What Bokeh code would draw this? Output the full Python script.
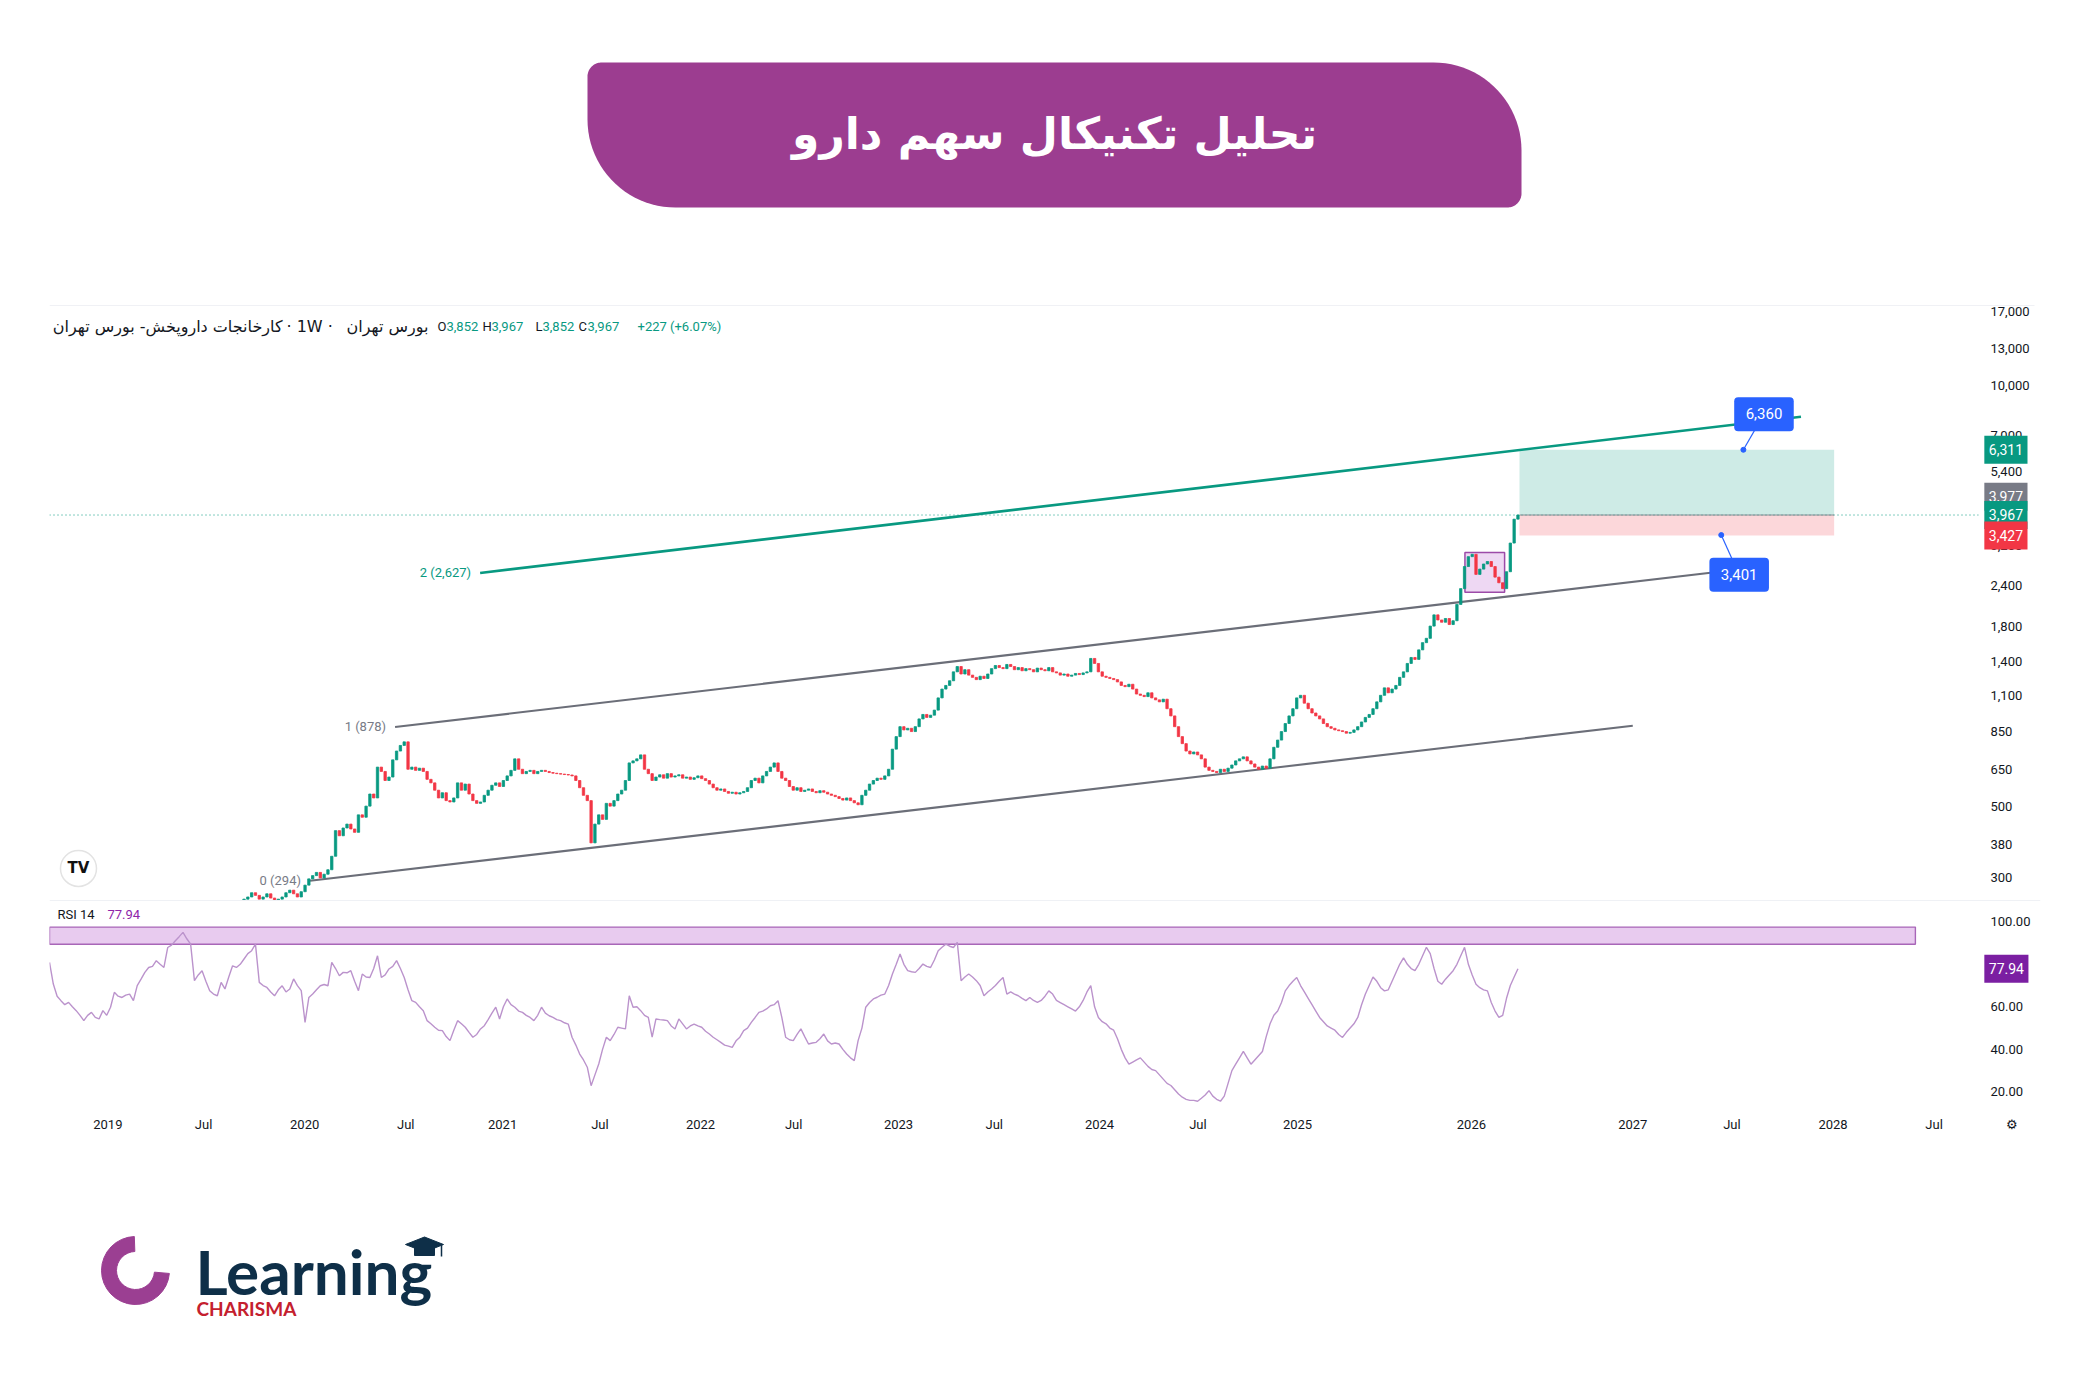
import numpy as np
from bokeh.plotting import figure
from bokeh.layouts import column
from bokeh.models import Range1d, ColumnDataSource, FixedTicker, NumeralTickFormatter, Label, Span
from bokeh.core.properties import value
from bokeh.embed import file_html
from bokeh.resources import INLINE

W = 2084

# ------------------------------------------------------------------ data
title_text = "تحلیل تکنیکال سهم دارو"
symbol_parts = ["کارخانجات داروپخش- بورس تهران", "· 1W ·", "بورس تهران"]

candle_start_week = 50
closes = [
    250, 258, 262, 270, 265, 258, 262, 268, 260, 255,
    258, 262, 270, 275, 268, 262, 272, 285, 298, 305,
    312, 300, 308, 318, 350, 420, 405, 428, 440, 425,
    415, 470, 462, 500, 545, 530, 660, 640, 600, 615,
    695, 740, 770, 790, 650, 660, 645, 655, 640, 605,
    590, 560, 530, 550, 520, 515, 530, 590, 560, 585,
    545, 520, 510, 515, 540, 560, 580, 590, 575, 600,
    620, 645, 700, 650, 630, 640, 645, 630, 640, 645,
    640, 635, 632, 630, 628, 626, 624, 620, 600, 570,
    540, 520, 385, 440, 470, 455, 510, 500, 520, 545,
    560, 600, 680, 690, 700, 720, 650, 630, 600, 615,
    625, 610, 630, 615, 620, 625, 610, 615, 605, 612,
    620, 608, 600, 585, 570, 560, 565, 555, 548, 552,
    545, 550, 555, 570, 600, 610, 590, 620, 640, 660,
    680, 640, 610, 600, 575, 560, 570, 555, 560, 565,
    555, 550, 558, 552, 545, 540, 535, 528, 522, 530,
    520, 512, 505, 540, 560, 585, 600, 610, 605, 620,
    650, 750, 820, 880, 860, 870, 850, 880, 930, 960,
    940, 955, 990, 1080, 1150, 1180, 1220, 1300, 1350, 1280,
    1320, 1270, 1250, 1230, 1260, 1240, 1280, 1330, 1360, 1340,
    1330, 1370, 1350, 1320, 1340, 1310, 1330, 1320, 1300, 1335,
    1320, 1310, 1340, 1300, 1290, 1270, 1280, 1260, 1270, 1285,
    1275, 1290, 1300, 1430, 1380, 1300, 1260, 1250, 1240, 1230,
    1210, 1180, 1170, 1190, 1150, 1110, 1100, 1090, 1120, 1080,
    1065, 1050, 1070, 1000, 950, 880, 820, 780, 740, 725,
    735, 720, 700, 660, 645, 640, 635, 650, 640, 655,
    670, 690, 700, 710, 690, 675, 660, 650, 665, 655,
    700, 760, 800, 850, 900, 950, 1000, 1080, 1100, 1040,
    1000, 970, 950, 930, 900, 880, 870, 860, 855, 850,
    840, 845, 860, 880, 910, 940, 960, 1000, 1050, 1100,
    1160, 1120, 1150, 1180, 1250, 1300, 1380, 1440, 1420, 1520,
    1600, 1650, 1800, 1950, 1880, 1850, 1900, 1820, 1870, 2100,
    2350, 2750, 2950, 3000, 2600, 2700, 2800, 2850, 2750, 2550,
    2450, 2350, 2650, 3250, 3852, 3967,
]

rsi_values = [
    80.9, 70.7, 65, 62.9, 61, 62.1, 60, 58.2, 56, 53.5,
    56, 57.4, 55, 54.3, 58.2, 56, 59.8, 66.8, 65, 64.4,
    65.5, 66, 62.9, 70, 73, 76.2, 78.5, 79, 81.7, 80,
    78.5, 87.9, 89, 91.1, 93, 95, 92, 89.5, 72.3, 75,
    77, 72, 67.6, 66, 65.2, 71.5, 68.4, 74, 79.3, 78.5,
    80, 82.5, 85, 86.4, 89.5, 71.5, 70, 69.1, 67, 65.2,
    68, 69.9, 67, 68.4, 73.1, 70, 67.6, 52.7, 64.4, 66,
    68, 69.9, 70.5, 69.9, 80.9, 78, 74.6, 76.2, 76, 77,
    72, 67.6, 75.4, 74, 73.8, 78, 84, 73.8, 75, 77.8,
    79, 81.7, 78, 73.8, 68, 62.9, 62.1, 60, 58.2, 53.5,
    52, 50.4, 49, 48.8, 46, 44.1, 49, 53.5, 52, 50.4,
    48, 45.7, 47, 49.6, 51.1, 54, 57, 59.8, 54.3, 60,
    63.7, 61, 59.8, 58, 57.4, 56, 55, 53.5, 56, 59.8,
    57, 55.8, 55, 54, 53.5, 52.5, 51.9, 45.7, 42, 37.8,
    35, 31.6, 22.9, 28, 33.1, 40, 45.7, 44.1, 47, 50.4,
    50, 49.6, 65.2, 59.8, 60, 58.2, 56, 55, 45.7, 54.3,
    54, 53.8, 53.5, 51, 49.6, 54.3, 52, 49.6, 51, 51.9,
    51, 50.4, 48.5, 47.2, 45.7, 44.5, 43.3, 42, 41.5, 40.9,
    44, 45.7, 48.8, 50, 52.7, 55, 57.4, 58, 59, 60.5,
    61, 62.9, 55, 45.7, 44.5, 44.1, 47, 49.6, 46, 42.5,
    43, 43.3, 45, 47.2, 44, 42.5, 43, 42.5, 40, 37.8,
    36, 34.7, 44.1, 50, 59.8, 62, 63.7, 64.5, 65.5, 66,
    70, 75.4, 80, 84.8, 80, 77, 76.5, 76.2, 78, 80.1,
    79, 78.5, 82, 86.4, 88, 89.5, 88.5, 87.9, 90.3, 72.3,
    74, 75.4, 74, 72.3, 70, 65.2, 67, 68.4, 70, 72,
    73.8, 66, 67, 66, 65.2, 64, 62.9, 64.4, 63, 62.1,
    63, 65, 67.5, 66, 63, 62, 61, 60, 59, 58,
    60, 63, 67, 70, 60, 55, 53, 52, 50, 49,
    45, 40, 36, 33, 34, 35, 36, 34, 32, 30.5,
    30, 28, 26, 24, 23, 21, 19, 17.5, 16.5, 16,
    16, 15.6, 17, 18.5, 20.6, 18, 16.5, 15.6, 18, 24,
    30, 33, 36, 39, 36, 33, 35, 37, 39, 46,
    52, 56, 58, 62, 67.5, 70, 72, 73.8, 70, 67,
    64, 61, 58, 55, 53, 51, 50, 49, 47, 45.6,
    48, 50, 52, 55, 61, 66, 70, 74, 72, 69,
    67.5, 68, 72, 76, 80, 83, 80, 78, 77, 80,
    84, 88, 85, 78, 72, 70.6, 73, 75, 77, 80,
    84, 88, 80, 75, 70.6, 69, 68, 67.5, 62, 58,
    55, 56, 64, 70, 74, 77.94,
]

tick_weeks = [15.3, 40.4, 66.9, 93.4, 118.8, 144.3, 170.7, 195.1, 222.6, 247.7,
              275.3, 301.1, 327.2, 372.8, 415.1, 441.1, 467.6, 494.1]
tick_labels = ["2019", "Jul", "2020", "Jul", "2021", "Jul", "2022", "Jul", "2023", "Jul",
               "2024", "Jul", "2025", "2026", "2027", "Jul", "2028", "Jul"]
price_ticks = [300, 380, 500, 650, 850, 1100, 1400, 1800, 2400, 3200, 4200, 5400, 7000, 10000, 13000, 17000]
rsi_ticks = [20, 40, 60, 80, 100]

upper_channel_x = [90.6, 436.6]
upper_channel_y = [878, 2640]
lower_channel_x = [68.3, 415.1]
lower_channel_y = [294, 886]
target_line_x = [112.9, 459.2]
target_line_y = [2627, 7980]
channel_labels = ["1 (878)", "0 (294)", "2 (2,627)"]

entry_price, target_price, stop_price = 3967, 6311, 3427
position_x = [385.4, 467.9]
box_x = [371.1, 381.5]
box_y = [2290, 3040]
target_note = dict(x=449.5, y=8130, text="6,360", anchor_x=444.1, anchor_y=6311)
stop_note = dict(x=443.0, y=2595, text="3,401", anchor_x=438.3, anchor_y=3440)
rsi_band_x = [0, 489.2]
rsi_band_y = [89.4, 97.5]
rsi_last = 77.94

ohlc_parts = [("O", "#131722", 388), ("3,852", "#089981", 397), ("H", "#131722", 433), ("3,967", "#089981", 442),
              ("L", "#131722", 486), ("3,852", "#089981", 493), ("C", "#131722", 529), ("3,967", "#089981", 538),
              ("+227 (+6.07%)", "#089981", 588)]

# ------------------------------------------------------------------ styles
UP, DOWN = "#089981", "#f23645"
TXT = "#131722"
X_END = 505.7           # right edge of the chart area (weeks)
X_MAX = 522.0           # right edge incl. price scale area
GEAR_WEEK = 514.4
FONT = "Roboto"
GFONT = value("Roboto")
LB, RB = 49, 44         # borders -> frames span x 49..2040 on every row
NB = "\u00a0"


def pad(s, n=2):
    return NB * n + s + NB * n


def bare(fig):
    fig.grid.visible = False
    fig.outline_line_color = None
    fig.background_fill_color = "white"
    fig.border_fill_color = "white"


def style_axis(ax):
    ax.axis_line_color = None
    ax.major_tick_line_color = None
    ax.minor_tick_line_color = None
    ax.major_tick_out = 0
    ax.major_tick_in = 0
    ax.minor_tick_out = 0
    ax.minor_tick_in = 0
    ax.major_label_text_font_size = "13px"
    ax.major_label_text_color = TXT
    ax.major_label_text_font = FONT


# ------------------------------------------------------------------ header
hdr = figure(width=W, height=306, x_range=Range1d(LB, W - RB), y_range=Range1d(0, 306),
             x_axis_location=None, y_axis_location=None, output_backend="svg",
             toolbar_location=None, min_border_left=LB, min_border_right=RB,
             min_border_top=0, min_border_bottom=0)
bare(hdr)


def corner(cx, cy, r, a0, a1, n=24):
    t = np.linspace(a0, a1, n)
    return list(cx + r * np.cos(t)), list(cy + r * np.sin(t))


bx0, bx1, byt, byb, rb, rs = 587, 1521, 306 - 62, 306 - 207, 88, 14
xs, ys = [], []
for cx, cy, r, a0, a1 in [(bx0 + rs, byt - rs, rs, np.pi, np.pi / 2),
                          (bx1 - rb, byt - rb, rb, np.pi / 2, 0),
                          (bx1 - rs, byb + rs, rs, 0, -np.pi / 2),
                          (bx0 + rb, byb + rb, rb, -np.pi / 2, -np.pi)]:
    a, b = corner(cx, cy, r, a0, a1)
    xs += a
    ys += b
hdr.patch(xs, ys, fill_color="#9c3d90", line_color=None)
hdr.text(x=[(bx0 + bx1) / 2], y=[306 - 133], text=[title_text], text_align="center",
         text_baseline="middle", text_color="white", text_font_size="44px",
         text_font=value("DejaVu Sans"), text_font_style="bold")
hdr.line([49, 2034], [0.5, 0.5], line_color="#e0e3eb", line_width=1)

# ------------------------------------------------------------------ price pane
xr = Range1d(0, X_MAX)
pp = figure(width=W, height=594, x_range=xr, y_range=Range1d(255.5, 17490), y_axis_type="log",
            y_axis_location="right", x_axis_location=None, output_backend="svg",
            toolbar_location=None, min_border_left=LB, min_border_right=RB,
            min_border_top=0, min_border_bottom=0)
bare(pp)
ya = pp.yaxis[0]
ya.ticker = FixedTicker(ticks=price_ticks, minor_ticks=[])
ya.formatter = NumeralTickFormatter(format="0,0")
style_axis(ya)
ya.major_label_standoff = -50   # labels sit in the price-scale strip left of the axis line

# position tool
pp.quad(left=[position_x[0]], right=[position_x[1]], bottom=[entry_price], top=[target_price],
        fill_color=UP, fill_alpha=0.2, line_color=None)
pp.quad(left=[position_x[0]], right=[position_x[1]], bottom=[stop_price], top=[entry_price],
        fill_color=DOWN, fill_alpha=0.2, line_color=None)
pp.line([0, X_END], [entry_price, entry_price], line_color=UP, line_width=1, line_dash="1 3")
pp.line(position_x, [entry_price, entry_price], line_color="#8a8d96", line_width=1)

# channels
pp.line(upper_channel_x, upper_channel_y, line_color="#6b6e78", line_width=2.2)
pp.line(lower_channel_x, lower_channel_y, line_color="#6b6e78", line_width=2.2)
pp.line(target_line_x, target_line_y, line_color=UP, line_width=2.6)
pp.text(x=[upper_channel_x[0], lower_channel_x[0]], y=[upper_channel_y[0], lower_channel_y[0]],
        text=channel_labels[:2], x_offset=-9, text_align="right", text_baseline="middle",
        text_color="#787b86", text_font_size="13px", text_font=GFONT)
pp.text(x=[target_line_x[0]], y=[target_line_y[0]], text=[channel_labels[2]], x_offset=-9,
        text_align="right", text_baseline="middle", text_color=UP, text_font_size="13px", text_font=GFONT)

# highlighted consolidation box
pp.quad(left=[box_x[0]], right=[box_x[1]], bottom=[box_y[0]], top=[box_y[1]],
        fill_color="#c77fd6", fill_alpha=0.3, line_color="#9c4aa8", line_width=1.5)

# candles
cl = np.array(closes, dtype=float)
op = np.concatenate([[cl[0]], cl[:-1]])
wk = candle_start_week + np.arange(len(cl))
src = ColumnDataSource(dict(x=wk, top=np.maximum(op, cl), bottom=np.minimum(op, cl),
                            color=np.where(cl >= op, UP, DOWN)))
pp.vbar(x="x", width=0.62, top="top", bottom="bottom", fill_color="color", line_color="color",
        line_width=0.8, source=src)

# price notes
for note in (target_note, stop_note):
    pp.line([note["anchor_x"], note["x"]], [note["anchor_y"], note["y"]], line_color="#2962ff", line_width=1.2)
    pp.scatter([note["anchor_x"]], [note["anchor_y"]], size=5, color="#2962ff")
    pp.add_layout(Label(x=note["x"], y=note["y"], text=pad(note["text"]), text_align="center",
                        text_baseline="middle", text_color="white", text_font_size="15px", text_font=FONT,
                        background_fill_color="#2962ff", padding=(4, 8), border_radius=4))

# right price tags
for val, txt, col, yoff in [(target_price, "6,311", UP, 0), (3977, "3,977", "#787b86", 18),
                            (entry_price, "3,967", UP, 0), (stop_price, "3,427", DOWN, 0)]:
    pp.add_layout(Label(x=X_END, y=val, x_offset=6, y_offset=yoff, text=pad(txt, 1), text_align="left",
                        text_baseline="middle", text_color="white", text_font_size="14px", text_font=FONT,
                        background_fill_color=col, padding=(1, 6)))

# legend line
for txt, off, align in [(symbol_parts[0], 233, "right"), (symbol_parts[1], 237, "left"),
                        (symbol_parts[2], 379, "right")]:
    pp.add_layout(Label(x=0, y=17490, x_offset=off, y_offset=-20, text=txt, text_align=align,
                        text_baseline="middle", text_color=TXT, text_font_size="16px",
                        text_font="DejaVu Sans"))
for txt, col, off in ohlc_parts:
    pp.add_layout(Label(x=0, y=17490, x_offset=off, y_offset=-20, text=txt, text_align="left",
                        text_baseline="middle", text_color=col, text_font_size="13px", text_font=FONT))

# TradingView badge
pp.scatter([7.6], [321], size=36, fill_color="white", line_color="#e3e3e3", line_width=1.5)
pp.text(x=[7.6], y=[321], text=["TV"], text_align="center", text_baseline="middle",
        text_color="#111111", text_font_size="15px", text_font=value("DejaVu Sans"), text_font_style="bold")

# ------------------------------------------------------------------ RSI pane
rp = figure(width=W, height=240, x_range=xr, y_range=Range1d(11.24, 110), y_axis_location="right",
            output_backend="svg", toolbar_location=None, min_border_left=LB, min_border_right=RB,
            min_border_top=0, min_border_bottom=30)
bare(rp)
ry = rp.yaxis[0]
ry.ticker = FixedTicker(ticks=rsi_ticks, minor_ticks=[])
ry.formatter = NumeralTickFormatter(format="0.00")
style_axis(ry)
ry.major_label_standoff = -50
rx = rp.xaxis[0]
style_axis(rx)
rx.ticker = FixedTicker(ticks=tick_weeks + [GEAR_WEEK], minor_ticks=[])
overrides = {t: l for t, l in zip(tick_weeks, tick_labels)}
overrides[GEAR_WEEK] = "⚙"
rx.major_label_overrides = overrides
rx.major_label_standoff = 6

rp.add_layout(Span(location=110, dimension="width", line_color="#e0e3eb", line_width=1))
rp.quad(left=[rsi_band_x[0]], right=[rsi_band_x[1]], bottom=[rsi_band_y[0]], top=[rsi_band_y[1]],
        fill_color="#e8cbef", fill_alpha=1.0, line_color="#a866b8", line_width=1.4)
rp.line(np.arange(len(rsi_values)), rsi_values, line_color="#bb93cc", line_width=1.4)
rp.add_layout(Label(x=0, y=110, x_offset=8, y_offset=-14, text="RSI 14", text_align="left",
                    text_baseline="middle", text_color=TXT, text_font_size="13px", text_font=FONT))
rp.add_layout(Label(x=0, y=110, x_offset=58, y_offset=-14, text=f"{rsi_last:.2f}", text_align="left",
                    text_baseline="middle", text_color="#8e24aa", text_font_size="13px", text_font=FONT))
rp.add_layout(Label(x=X_END, y=rsi_last, x_offset=6, text=pad(f"{rsi_last:.2f}", 1), text_align="left",
                    text_baseline="middle", text_color="white", text_font_size="14px", text_font=FONT,
                    background_fill_color="#7b1fa2", padding=(1, 6)))

# ------------------------------------------------------------------ footer (logo)
ft = figure(width=W, height=250, x_range=Range1d(LB, W - RB), y_range=Range1d(0, 250),
            x_axis_location=None, y_axis_location=None, output_backend="svg",
            toolbar_location=None, min_border_left=LB, min_border_right=RB,
            min_border_top=0, min_border_bottom=0)
bare(ft)
ft.annular_wedge(x=[135], y=[120], inner_radius=19, outer_radius=34, start_angle=np.radians(92),
                 end_angle=np.radians(-5), direction="anticlock", color="#9b3f92")
ft.text(x=[195], y=[120], text=["Learning"], text_align="left", text_baseline="middle",
        text_color="#0e2f48", text_font_size="62px", text_font=value("Lato"), text_font_style="bold")
ft.text(x=[196], y=[82], text=["CHARISMA"], text_align="left", text_baseline="middle",
        text_color="#c4202e", text_font_size="19px", text_font=value("Lato"), text_font_style="bold")
ft.patch([405, 424, 443, 424], [146, 153.5, 146, 138.5], color="#0e2f48")
ft.quad(left=[414], right=[434], bottom=[135], top=[144], color="#0e2f48")
ft.line([441, 441], [146, 134], line_color="#0e2f48", line_width=1.5)

layout = column(hdr, pp, rp, ft, spacing=0)
open("out.html", "w").write(file_html(layout, INLINE))
